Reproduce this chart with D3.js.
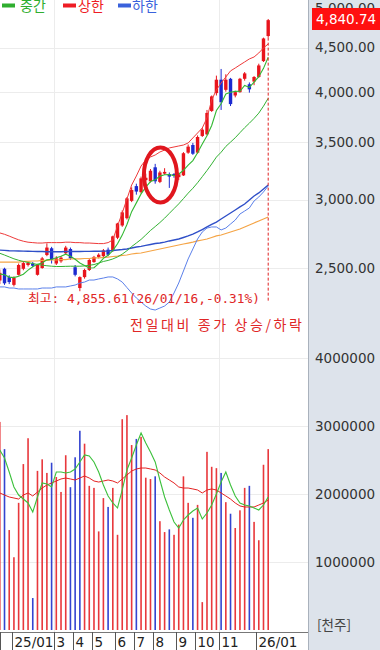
<!DOCTYPE html>
<html><head><meta charset="utf-8">
<script src="https://cdn.jsdelivr.net/npm/d3@7"></script>
<style>
body{margin:0;background:#fff;}
svg{display:block;font-family:"DejaVu Sans",sans-serif;}
</style>
</head><body>
<svg id="c" width="380" height="650"></svg>
<script>
// ---- data (weekly) ----
const weeks = ["24/12/09","24/12/16","24/12/23","24/12/30","25/01/06","25/01/13","25/01/20","25/01/27","25/02/03","25/02/10","25/02/17","25/02/24","25/03/03","25/03/10","25/03/17","25/03/24","25/03/31","25/04/07","25/04/14","25/04/21","25/04/28","25/05/05","25/05/12","25/05/19","25/05/26","25/06/02","25/06/09","25/06/16","25/06/23","25/06/30","25/07/07","25/07/14","25/07/21","25/07/28","25/08/04","25/08/11","25/08/18","25/08/25","25/09/01","25/09/08","25/09/15","25/09/22","25/09/29","25/10/06","25/10/13","25/10/20","25/10/27","25/11/03","25/11/10","25/11/17","25/11/24","25/12/01","25/12/08","25/12/15","25/12/22","25/12/29","26/01/05","26/01/12"];
const opens = [2418,2495,2440,2390,2455,2495,2520,2530,2455,2500,2588,2635,2530,2545,2600,2630,2505,2370,2440,2487,2540,2575,2580,2625,2623,2710,2800,2855,2990,3110,3060,3160,3150,3270,3145,3215,3210,3212,3185,3200,3400,3470,3400,3555,3570,3800,3985,4130,4020,4140,3960,3995,4140,4080,4110,4160,4340,4640];
const highs = [2490,2502,2452,2445,2530,2545,2542,2540,2525,2575,2670,2645,2580,2582,2652,2640,2520,2445,2495,2560,2582,2600,2630,2640,2725,2820,2915,3020,3100,3130,3190,3215,3255,3300,3240,3262,3225,3220,3225,3405,3475,3490,3560,3630,3810,3960,4175,4250,4190,4150,4010,4150,4215,4100,4170,4310,4620,4855.61];
const lows = [2395,2390,2395,2380,2450,2485,2510,2505,2450,2495,2580,2530,2520,2535,2590,2555,2445,2350,2430,2480,2535,2565,2575,2580,2610,2700,2790,2845,2980,3040,3050,3150,3140,3130,3135,3205,3095,3180,3160,3195,3390,3380,3390,3545,3560,3790,3960,3810,4000,3850,3940,3990,4120,3990,4070,4150,4330,4620];
const closes = [2468,2400,2408,2435,2520,2533,2535,2515,2521,2565,2640,2555,2565,2570,2640,2565,2455,2440,2487,2554,2575,2590,2620,2590,2720,2815,2900,3010,3078,3065,3175,3180,3240,3150,3225,3230,3190,3195,3210,3395,3455,3390,3545,3615,3780,3950,4130,3890,4130,3870,3995,4140,4200,4025,4160,4290,4610,4840.74];
const volumes = [3060000,2660000,1470000,1070000,1870000,2440000,2820000,470000,2340000,2510000,2310000,2460000,2250000,2030000,2570000,2100000,2540000,2930000,2740000,2120000,2090000,1450000,1940000,1810000,2090000,1400000,3100000,3160000,2720000,2810000,2840000,2240000,2220000,2260000,1600000,1440000,1480000,1400000,1550000,2260000,1870000,1650000,1840000,410000,2620000,2400000,2380000,2310000,1880000,1710000,1500000,1760000,2090000,2120000,1590000,1320000,2430000,2660000];
const ma5 = [2460,2455,2440,2437,2446,2459,2486,2508,2525,2534,2555,2559,2569,2579,2594,2579,2559,2534,2517,2500,2502,2529,2565,2586,2619,2667,2729,2807,2905,2974,3046,3102,3148,3162,3194,3205,3207,3198,3210,3244,3289,3329,3399,3480,3557,3656,3804,3873,3976,3994,4003,4005,4067,4046,4104,4163,4257,4385];
const bandMid = [2600,2588,2575,2562,2552,2544,2537,2530,2524,2519,2515,2512,2510,2510,2511,2512,2512,2512,2514,2518,2523,2533,2544,2551,2561,2575,2594,2618,2647,2672,2698,2730,2763,2792,2822,2855,2892,2929,2966,3008,3052,3092,3138,3189,3242,3299,3360,3404,3457,3497,3538,3586,3634,3678,3725,3778,3849,3931];
const bandUpper = [2745,2735,2722,2708,2695,2685,2678,2675,2672,2672,2675,2675,2675,2675,2678,2678,2675,2675,2672,2672,2670,2668,2668,2675,2694,2796,2895,3005,3119,3195,3281,3334,3361,3379,3406,3424,3443,3452,3461,3470,3489,3536,3583,3631,3730,3913,4019,4094,4160,4228,4261,4296,4330,4365,4388,4435,4495,4543];
const bandLower = [2377,2377,2370,2370,2364,2364,2364,2364,2364,2370,2370,2370,2377,2377,2377,2383,2389,2402,2408,2421,2421,2428,2434,2441,2441,2428,2408,2373,2339,2308,2283,2259,2241,2235,2247,2259,2283,2339,2402,2480,2561,2630,2701,2752,2781,2789,2789,2767,2781,2811,2841,2887,2910,2934,2989,3021,3062,3111];
const ma60 = [2622,2620,2618,2617,2616,2615,2614,2613,2612,2612,2611,2611,2611,2611,2612,2612,2612,2612,2613,2613,2614,2614,2615,2616,2619,2623,2626,2630,2637,2644,2648,2655,2662,2669,2672,2679,2687,2694,2701,2712,2723,2737,2752,2770,2789,2808,2826,2849,2872,2895,2918,2942,2965,2997,3029,3054,3086,3119];
const ma120 = [2540,2540,2540,2540,2540,2544,2544,2547,2547,2551,2551,2554,2554,2557,2557,2561,2561,2561,2564,2564,2568,2568,2571,2574,2578,2581,2585,2588,2595,2599,2602,2609,2616,2623,2630,2637,2644,2651,2658,2665,2672,2679,2687,2694,2701,2712,2723,2730,2741,2752,2763,2774,2789,2804,2819,2834,2849,2864];
const volMa5 = [2647000,2529000,2324000,2103000,1985000,1926000,1868000,1735000,1956000,2162000,2147000,2103000,2324000,2324000,2309000,2324000,2368000,2471000,2574000,2559000,2471000,2324000,2132000,1971000,1868000,1794000,2059000,2353000,2529000,2721000,2897000,2750000,2618000,2471000,2206000,1956000,1765000,1588000,1500000,1618000,1691000,1750000,1794000,1632000,1721000,1838000,2000000,2176000,2324000,2132000,1971000,1868000,1838000,1824000,1794000,1765000,1838000,1956000];
const volMa20 = [2015000,1985000,1956000,1941000,1926000,1985000,2015000,1971000,2029000,2088000,2132000,2162000,2191000,2221000,2235000,2221000,2206000,2235000,2265000,2235000,2191000,2176000,2191000,2206000,2191000,2162000,2221000,2279000,2338000,2368000,2382000,2382000,2368000,2353000,2309000,2250000,2206000,2162000,2103000,2088000,2088000,2074000,2059000,2015000,2059000,2074000,2059000,2015000,1971000,1926000,1868000,1824000,1809000,1809000,1809000,1838000,1868000,1912000];
const priceTicks = [5000,4500,4000,3500,3000,2500];
const volTicks = [4000000,3000000,2000000,1000000];
const monthLabels = ["25/01","3","4","5","6","7","8","9","10","11","26/01"];
const monthIdx = [3,12,16,20,25,29,33,38,42,47,55];
const gridMonthIdx = [12,47];
const legendNames = ["중간","상한","하한"];
const highDate = "26/01/16";

// ---- setup ----
const W = 308, PANEL_R = 380;
const RED = "#e8141c", BLUE = "#1c2ad0";
const svg = d3.select("#c");
const n = weeks.length;
const x = d3.scaleLinear().domain([0, n - 1]).range([-0.2, 268.2]);
const step = x(1) - x(0);
const yP = d3.scaleLog().domain([2500, 5000]).range([268, 8]);
const yV = d3.scaleLinear().domain([0, 4000000]).range([630, 358]);
const idx = d3.range(n);

const defs = svg.append("defs");
defs.append("clipPath").attr("id", "cp").append("rect").attr("x", 0).attr("y", 0).attr("width", W).attr("height", 345);
defs.append("clipPath").attr("id", "cv").append("rect").attr("x", 0).attr("y", 345).attr("width", W).attr("height", 287);

// right panel
svg.append("rect").attr("x", W).attr("y", 0).attr("width", PANEL_R - W).attr("height", 650).attr("fill", "#dde3eb");
svg.append("line").attr("x1", W + 0.5).attr("x2", W + 0.5).attr("y1", 0).attr("y2", 650).attr("stroke", "#a9b1bc");

// grid
const grid = svg.append("g").attr("stroke", "#ececec").attr("stroke-width", 1);
grid.selectAll(".gp").data(priceTicks.slice(1)).join("line")
  .attr("x1", 0).attr("x2", W).attr("y1", d => Math.round(yP(d)) + 0.5).attr("y2", d => Math.round(yP(d)) + 0.5);
grid.selectAll(".gv").data(volTicks).join("line")
  .attr("x1", 0).attr("x2", W).attr("y1", d => Math.round(yV(d)) + 0.5).attr("y2", d => Math.round(yV(d)) + 0.5);
grid.selectAll(".gx").data(gridMonthIdx).join("line")
  .attr("x1", d => Math.round(x(d) - step / 2) + 0.5).attr("x2", d => Math.round(x(d) - step / 2) + 0.5)
  .attr("y1", 0).attr("y2", 632);

// ---- price panel ----
const gp = svg.append("g").attr("clip-path", "url(#cp)");
const candleColor = i => closes[i] >= opens[i] ? RED : BLUE;
gp.selectAll(".wick").data(idx).join("line")
  .attr("x1", i => x(i)).attr("x2", i => x(i))
  .attr("y1", i => yP(highs[i])).attr("y2", i => yP(lows[i]))
  .attr("stroke", candleColor).attr("stroke-width", 1);
gp.selectAll(".body").data(idx).join("rect")
  .attr("x", i => x(i) - 1.7).attr("width", 3.4)
  .attr("y", i => yP(Math.max(opens[i], closes[i])))
  .attr("height", i => Math.max(1.2, Math.abs(yP(opens[i]) - yP(closes[i]))))
  .attr("fill", candleColor);

const lineP = arr => d3.line().x(i => x(i)).y(i => yP(arr[i]))(idx);
const priceLines = [
  [ma120, "#f5a445", 1.2],
  [ma60, "#2f4fc8", 1.4],
  [bandLower, "#5b80ea", 1],
  [bandUpper, "#ee3a3a", 1],
  [bandMid, "#33b233", 1],
  [ma5, "#33b833", 1.1]
];
priceLines.forEach(([arr, c, w]) => {
  gp.append("path").attr("d", lineP(arr)).attr("fill", "none").attr("stroke", c).attr("stroke-width", w);
});

// circle highlight
gp.append("ellipse").attr("cx", (x(33) + x(35)) / 2 + 0.5).attr("cy", yP(3200) - 0.5)
  .attr("rx", 16.5).attr("ry", 27.5).attr("fill", "none").attr("stroke", "#e0161e").attr("stroke-width", 4);

// dashed line from last candle
const last = n - 1;
svg.append("line").attr("x1", x(last)).attr("x2", x(last)).attr("y1", yP(lows[last])).attr("y2", 301)
  .attr("stroke", "#e02020").attr("stroke-width", 1).attr("stroke-dasharray", "3,2");

// annotations
const maxHigh = d3.max(highs);
const pct = (closes[last] / maxHigh - 1) * 100;
svg.append("text").attr("x", 28).attr("y", 299).attr("dominant-baseline", "middle")
  .attr("font-family", "'DejaVu Sans Mono','Noto Sans CJK KR',monospace").attr("font-size", 12.5)
  .attr("fill", "#e02626").attr("textLength", 232).attr("lengthAdjust", "spacingAndGlyphs")
  .text(`최고: ${d3.format(",.2f")(maxHigh)}(${highDate},${pct.toFixed(2)}%)`);
svg.append("text").attr("x", 130).attr("y", 326).attr("dominant-baseline", "middle")
  .attr("font-family", "'Noto Sans CJK KR',sans-serif").attr("font-size", 14)
  .attr("fill", "#e02626").attr("textLength", 172).attr("lengthAdjust", "spacing")
  .text("전일대비 종가 상승/하락");

// legend
const legColors = ["#2fae2f", "#ee1c24", "#3a62dc"];
const legX = [2, 63, 118];
const legTextX = [20, 78, 132];
legendNames.forEach((t, k) => {
  svg.append("rect").attr("x", legX[k]).attr("y", 3.5).attr("width", 13).attr("height", 4).attr("fill", legColors[k]);
  svg.append("text").attr("x", legTextX[k]).attr("y", 10.5)
    .attr("font-family", "'Noto Sans CJK KR',sans-serif").attr("font-size", 14)
    .attr("fill", legColors[k]).text(t);
});

// ---- volume panel ----
const gv = svg.append("g").attr("clip-path", "url(#cv)");
const volColor = i => (i === 0 || closes[i] >= closes[i - 1]) ? "#e8383c" : "#3444d0";
gv.selectAll(".vbar").data(idx).join("rect")
  .attr("x", i => x(i) - 0.8).attr("width", 1.6)
  .attr("y", i => yV(volumes[i])).attr("height", i => yV(0) - yV(volumes[i]))
  .attr("fill", volColor);
const lineV = arr => d3.line().x(i => x(i)).y(i => yV(arr[i]))(idx);
gv.append("path").attr("d", lineV(volMa20)).attr("fill", "none").attr("stroke", "#e42222").attr("stroke-width", 1);
gv.append("path").attr("d", lineV(volMa5)).attr("fill", "none").attr("stroke", "#3cc03c").attr("stroke-width", 1.1);

// ---- axes ----
const axP = d3.axisRight(yP).tickValues(priceTicks).tickFormat(d3.format(",.2f")).tickSize(0).tickPadding(7);
const gAxP = svg.append("g").attr("transform", `translate(${W},0)`).call(axP);
const axV = d3.axisRight(yV).tickValues(volTicks).tickFormat(d => String(d)).tickSize(0).tickPadding(7);
const gAxV = svg.append("g").attr("transform", `translate(${W},0)`).call(axV);
[gAxP, gAxV].forEach(g => {
  g.select(".domain").remove();
  g.selectAll("text").attr("font-size", 13.5).attr("fill", "#333").attr("font-family", "'DejaVu Sans',sans-serif");
});

// current price label
svg.append("rect").attr("x", 312).attr("y", 8).attr("width", 68).attr("height", 22).attr("fill", "#ff1010");
svg.append("text").attr("x", 316).attr("y", 19.5).attr("dominant-baseline", "middle")
  .attr("font-size", 13.5).attr("fill", "#fff").text(d3.format(",.2f")(closes[last]));

svg.append("text").attr("x", 317).attr("y", 626).attr("dominant-baseline", "middle")
  .attr("font-family", "'Noto Sans CJK KR',sans-serif").attr("font-size", 13.5).attr("fill", "#444").text("[천주]");

// bottom time axis
svg.append("line").attr("x1", 0).attr("x2", W).attr("y1", 632.5).attr("y2", 632.5).attr("stroke", "#777");
const sepX = [0].concat(monthIdx.map(i => Math.round(x(i) - step / 2)));
svg.selectAll(".sep").data(sepX).join("line")
  .attr("x1", d => d + 0.5).attr("x2", d => d + 0.5).attr("y1", 632).attr("y2", 650)
  .attr("stroke", "#555");
svg.selectAll(".mlab").data(monthIdx).join("text")
  .attr("x", i => Math.round(x(i) - step / 2) + 2.5).attr("y", 642.5).attr("dominant-baseline", "middle")
  .attr("font-size", 13.5).attr("fill", "#222")
  .text((i, k) => monthLabels[k]);
</script>
</body></html>
